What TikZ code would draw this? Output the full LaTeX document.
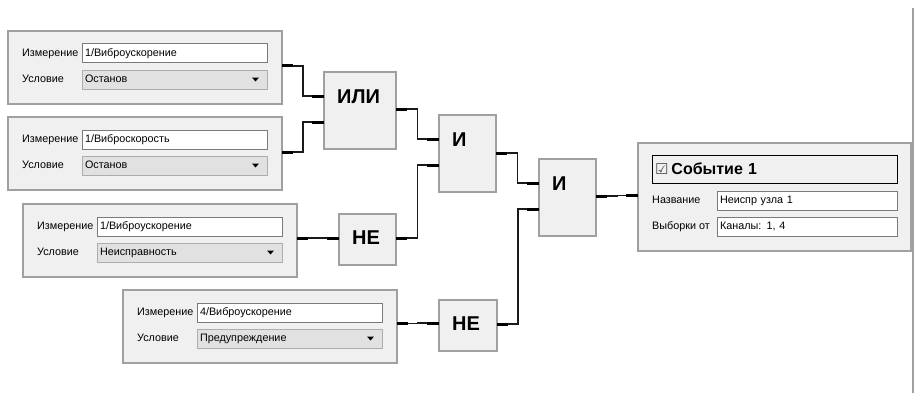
\documentclass[tikz,border=0pt]{standalone}
\usepackage{fontspec}
\setmainfont{Liberation Sans}
\newfontfamily\symfont{DejaVu Sans}
\usetikzlibrary{calc}

\definecolor{panelbg}{HTML}{F0F0F0}
\definecolor{panelrim}{HTML}{A0A0A0}
\definecolor{fieldrim}{HTML}{7A7A7A}
\definecolor{combobg}{HTML}{E1E1E1}
\definecolor{comborim}{HTML}{ADADAD}
\definecolor{wirecol}{HTML}{1A1A1A}

\tikzset{
  panel/.style={draw=panelrim, line width=2pt, fill=panelbg, inner sep=0pt,
    outer sep=0pt, anchor=north west},
  smalltext/.style={font=\fontsize{10.8pt}{12pt}\selectfont,
    text height=7.8pt, text depth=2.2pt},
  lbl/.style={smalltext, inner sep=0pt, anchor=west},
  field/.style={smalltext, draw=fieldrim, line width=1pt, fill=white,
    anchor=north west, text width=179pt, align=left, inner xsep=3pt,
    inner ysep=0pt, minimum height=19pt, outer sep=0pt},
  combo/.style={field, draw=comborim, fill=combobg},
  arrowmark/.style={fill=black},
  gatelbl/.style={font=\fontsize{20pt}{24pt}\selectfont\bfseries,
    inner sep=0pt, anchor=west},
  header/.style={draw=black, line width=1pt, fill=panelbg, anchor=north west,
    text width=239pt, align=left, inner xsep=3pt, inner ysep=0pt,
    minimum height=28pt, outer sep=0pt,
    font=\fontsize{16pt}{18pt}\selectfont\bfseries},
  wire/.style={draw=wirecol, line width=1.2pt},
  stub/.style={draw=black, line width=3pt},
}

% a sensor block: name, x, y, measurement, condition
\newcommand\sensorpanel[5]{%
  \node[panel, minimum width=274pt, minimum height=73pt] (#1) at (#2,#3) {};
  \node[field] (#1m) at ([xshift=74pt,yshift=-13pt]#1.north west) {#4};
  \node[combo] (#1c) at ([xshift=74pt,yshift=-39pt]#1.north west) {#5};
  \fill[arrowmark] ([xshift=-15pt,yshift=2pt]#1c.east) -- ++(7pt,0pt)
    -- ++(-3.5pt,-4pt) -- cycle;
  \node[lbl, xshift=14pt] (#1ml) at (#1.west |- #1m.west) {Измерение};
  \node[lbl, xshift=14pt] (#1cl) at (#1.west |- #1c.west) {Условие};
}

% a logic gate: name, x, y, width, height, label offset, label
\newcommand\logicgate[7]{%
  \node[panel, minimum width=#4pt, minimum height=#5pt] (#1) at (#2,#3) {};
  \node[gatelbl] (#1l) at ([xshift=13pt,yshift=-#6pt]#1.north west) {#7};
}

% wire between an output port and an input port, with thick stubs
\newcommand\joinports[2]{%
  \draw[wire] (#1) -| ($(#1)!0.5!(#2)$) |- (#2);
  \draw[stub] (#1) -- ++(11pt,0pt);
  \draw[stub] (#2) -- ++(-12pt,0pt);
}

\begin{document}
\begin{tikzpicture}[x=1pt, y=-1pt]
  \fill[white] (0,0) rectangle (915,396);
  \useasboundingbox (0,0) rectangle (915,396);

  % sensor inputs
  \sensorpanel{pa}{8}{31}{1/Виброускорение}{Останов}
  \sensorpanel{pb}{8}{117}{1/Виброскорость}{Останов}
  \sensorpanel{pc}{23}{204}{1/Виброускорение}{Неисправность}
  \sensorpanel{pd}{123}{290}{4/Виброускорение}{Предупреждение}

  % gates
  \logicgate{gor}{324}{72}{72}{77}{25}{ИЛИ}
  \logicgate{gand}{439}{115}{57}{77}{25}{И}
  \logicgate{gtop}{539}{159}{57}{77}{25}{И}
  \logicgate{gnota}{339}{214}{57}{51}{24}{НЕ}
  \logicgate{gnotb}{439}{300}{58}{51}{24}{НЕ}

  % event block
  \node[panel, minimum width=273pt, minimum height=108pt] (ev) at (638,143) {};
  \node[header] (evh) at ([xshift=14pt,yshift=-12pt]ev.north west)
    {{\symfont\mdseries\fontsize{15pt}{16pt}\selectfont\color{black!70}☑}\hspace{3pt}Событие 1};
  \node[field, text width=174pt] (evn) at ([xshift=79pt,yshift=-48pt]ev.north west) {Неиспр узла 1};
  \node[field, text width=174pt] (evs) at ([xshift=79pt,yshift=-74pt]ev.north west) {Каналы: 1, 4};
  \node[lbl, xshift=14pt] (evnl) at (ev.west |- evn.west) {Название};
  \node[lbl, xshift=14pt] (evsl) at (ev.west |- evs.west) {Выборки от};

  % ports
  \coordinate (pao) at ([yshift=1.5pt]pa.east);
  \coordinate (pbo) at ([yshift=1.5pt]pb.east);
  \coordinate (pco) at ([yshift=2.5pt]pc.east);
  \coordinate (pdo) at ([yshift=3pt]pd.east);
  \coordinate (gori1) at ([yshift=14.5pt]gor.west);
  \coordinate (gori2) at ([yshift=-11.5pt]gor.west);
  \coordinate (goro) at ([yshift=1.5pt]gor.east);
  \coordinate (gandi1) at ([yshift=14.5pt]gand.west);
  \coordinate (gandi2) at ([yshift=-11.5pt]gand.west);
  \coordinate (gando) at ([yshift=0.5pt]gand.east);
  \coordinate (gtopi1) at ([yshift=14.5pt]gtop.west);
  \coordinate (gtopi2) at ([yshift=-11.5pt]gtop.west);
  \coordinate (gtopo) at ([yshift=1.5pt]gtop.east);
  \coordinate (gnotai) at ([yshift=1.5pt]gnota.west);
  \coordinate (gnotao) at ([yshift=1.5pt]gnota.east);
  \coordinate (gnotbi) at ([yshift=2.5pt]gnotb.west);
  \coordinate (gnotbo) at ([yshift=1.5pt]gnotb.east);
  \coordinate (evi) at ([yshift=1.5pt]ev.west);

  % connections
  \joinports{pao}{gori1}
  \joinports{pbo}{gori2}
  \joinports{goro}{gandi1}
  \joinports{pco}{gnotai}
  \joinports{gnotao}{gandi2}
  \joinports{gando}{gtopi1}
  \joinports{pdo}{gnotbi}
  \joinports{gnotbo}{gtopi2}
  \joinports{gtopo}{evi}

  % right border of the canvas
  \draw[draw=panelrim, line width=1.5pt] (913,8) -- (913,393);
\end{tikzpicture}
\end{document}
